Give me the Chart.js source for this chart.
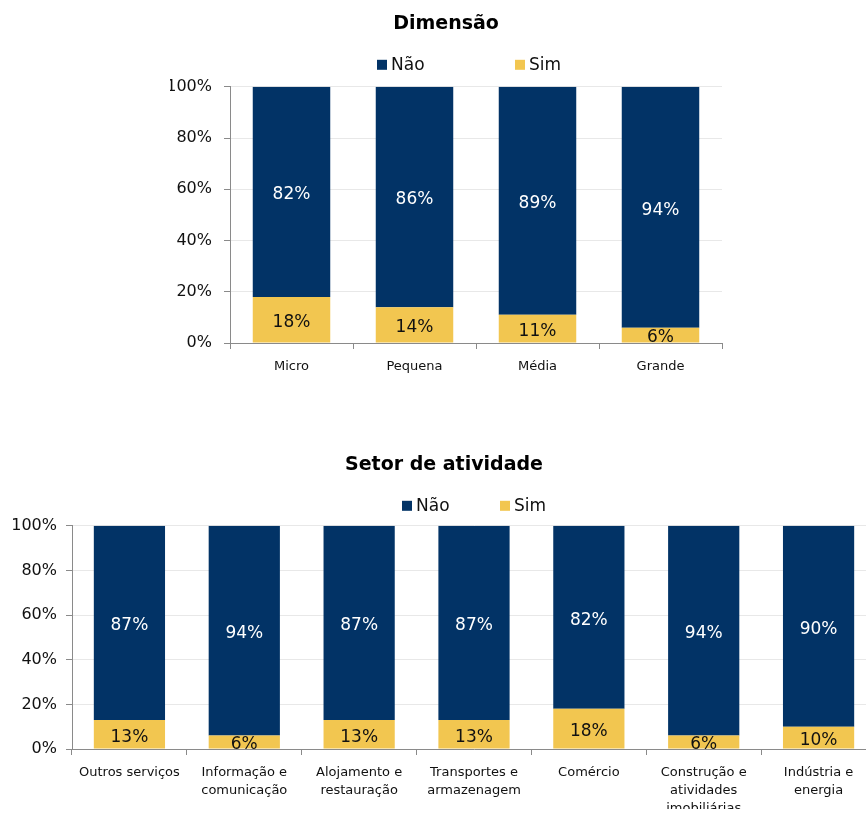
<!DOCTYPE html>
<html>
<head>
<meta charset="utf-8">
<script src="https://cdn.jsdelivr.net/npm/chart.js@4.4.1/dist/chart.umd.min.js"></script>
<style>
  body { margin: 0; background: #fff; overflow: hidden; width: 866px; height: 816px; }
  .box { position: absolute; left: 0; }
</style>
</head>
<body>
<div class="box" style="top:0; width:866px; height:400px;"><canvas id="chartDim"></canvas></div>
<div class="box" style="top:430px; width:890px; height:386px;"><canvas id="chartSetor"></canvas></div>
<script>
// Dimensão da empresa
var dimLabels = ['Micro', 'Pequena', 'Média', 'Grande'];
var dimNao = [82, 86, 89, 94];
var dimSim = [18, 14, 11, 6];

// Setor de atividade
var setorLabels = [
  ['Outros serviços'],
  ['Informação e', 'comunicação'],
  ['Alojamento e', 'restauração'],
  ['Transportes e', 'armazenagem'],
  ['Comércio'],
  ['Construção e', 'atividades', 'imobiliárias'],
  ['Indústria e', 'energia']
];
var setorNao = [87, 94, 87, 87, 82, 94, 90];
var setorSim = [13, 6, 13, 13, 18, 6, 10];

var yTicks = [0, 20, 40, 60, 80, 100];

var NAVY = '#023366';
var GOLD = '#f2c650';
var AXIS = '#8a8a8a';
var FONT = "'DejaVu Sans', sans-serif";

// value labels in the middle of each segment
var segLabels = {
  id: 'segLabels',
  afterDatasetsDraw: function(chart) {
    var ctx = chart.ctx;
    ctx.save();
    ctx.font = '17px ' + FONT;
    ctx.textAlign = 'center';
    ctx.textBaseline = 'middle';
    chart.data.datasets.forEach(function(ds, i) {
      chart.getDatasetMeta(i).data.forEach(function(bar, j) {
        ctx.fillStyle = ds.labelColor;
        ctx.fillText(ds.data[j] + '%', bar.x, (bar.y + bar.base) / 2 + 3);
      });
    });
    ctx.restore();
  }
};

// legend row: small square + name, placed between title and plot
var legendRow = {
  id: 'legendRow',
  afterDraw: function(chart, args, opts) {
    var ctx = chart.ctx;
    var y = chart.chartArea.top - opts.gap;
    var items = chart.data.datasets.slice().reverse();
    ctx.save();
    ctx.font = '17px ' + FONT;
    ctx.textBaseline = 'middle';
    ctx.textAlign = 'left';
    items.forEach(function(ds, k) {
      var x = opts.xs[k];
      ctx.fillStyle = ds.backgroundColor;
      ctx.fillRect(x, y - 5, 10, 10);
      ctx.fillStyle = '#111';
      ctx.fillText(ds.label, x + 14, y + 1);
    });
    ctx.restore();
  }
};

function makeChart(id, labels, nao, sim, cfg) {
  return new Chart(document.getElementById(id), {
    type: 'bar',
    data: {
      labels: labels,
      datasets: [
        { label: 'Sim', data: sim, backgroundColor: GOLD, labelColor: '#111',
          barPercentage: cfg.barPct, categoryPercentage: 1 },
        { label: 'Não', data: nao, backgroundColor: NAVY, labelColor: '#fff',
          barPercentage: cfg.barPct, categoryPercentage: 1 }
      ]
    },
    options: {
      responsive: true,
      maintainAspectRatio: false,
      animation: false,
      layout: { padding: cfg.padding },
      plugins: {
        legend: { display: false },
        tooltip: { enabled: false },
        title: {
          display: true,
          text: cfg.title,
          color: '#000',
          font: { family: FONT, size: 19, weight: 'bold' },
          padding: cfg.titlePad
        },
        legendRow: { xs: cfg.legendXs, gap: cfg.legendGap }
      },
      scales: {
        x: {
          stacked: true,
          border: { color: AXIS },
          grid: { drawOnChartArea: false, drawTicks: true, tickLength: 6, tickColor: AXIS, offset: true },
          ticks: {
            color: '#111',
            font: { family: FONT, size: 13, lineHeight: 1.38 },
            padding: 9,
            maxRotation: 0,
            autoSkip: false
          },
          afterFit: function(axis) { axis.height = cfg.xHeight; }
        },
        y: {
          stacked: true,
          min: 0,
          max: 100,
          afterBuildTicks: function(axis) {
            axis.ticks = yTicks.map(function(v) { return { value: v }; });
          },
          border: { color: AXIS },
          grid: { color: '#e8e8e8', tickLength: 6, tickColor: AXIS },
          ticks: {
            color: '#111',
            font: { family: FONT, size: 16 },
            padding: cfg.yPad,
            callback: function(v) { return v + '%'; }
          },
          afterFit: function(axis) { axis.width = 60; }
        }
      }
    },
    plugins: [segLabels, legendRow]
  });
}

makeChart('chartDim', dimLabels, dimNao, dimSim, {
  title: 'Dimensão',
  barPct: 0.63,
  padding: { left: 170, right: 144, top: 0, bottom: 17 },
  titlePad: { top: 13, bottom: 51 },
  legendXs: [377, 515],
  legendGap: 22,
  xHeight: 40,
  yPad: 12
});

makeChart('chartSetor', setorLabels, setorNao, setorSim, {
  title: 'Setor de atividade',
  barPct: 0.62,
  padding: { left: 12, right: 14, top: 0, bottom: 7 },
  titlePad: { top: 24, bottom: 49 },
  legendXs: [402, 500],
  legendGap: 20,
  xHeight: 60,
  yPad: 9
});
</script>
</body>
</html>
